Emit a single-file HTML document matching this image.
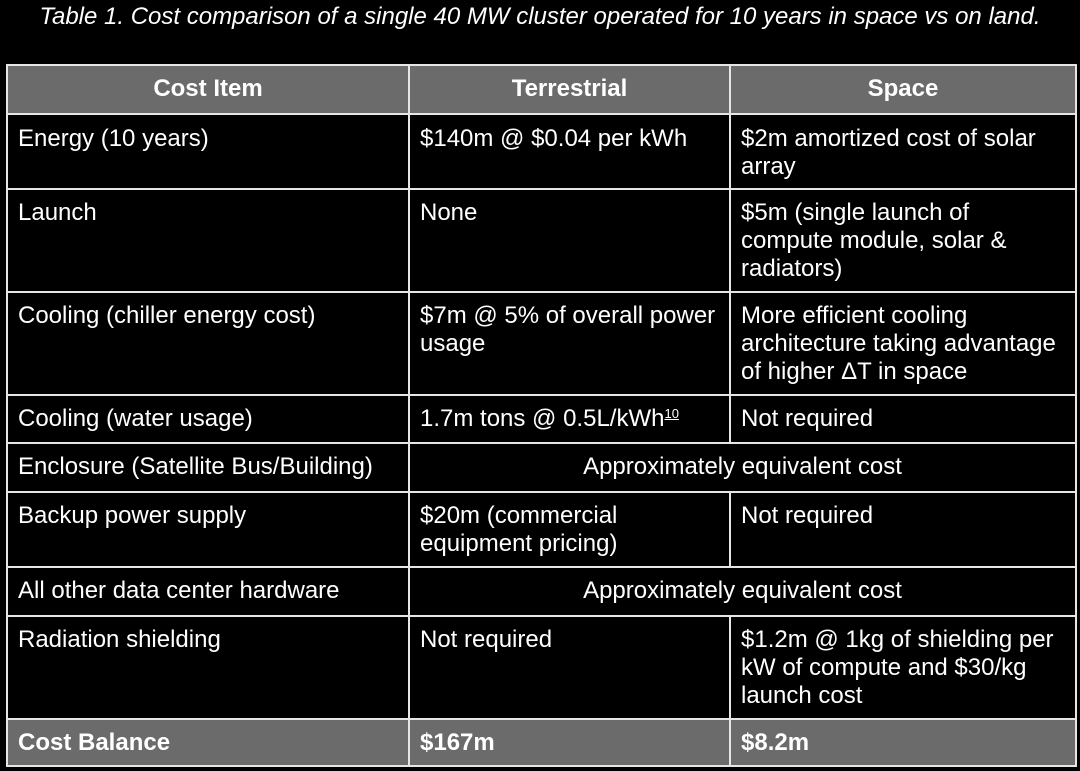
<!DOCTYPE html>
<html><head><meta charset="utf-8"><style>
body{margin:0;width:1080px;height:771px;background:#000;overflow:hidden;font-family:"Liberation Sans",Arial,sans-serif;color:#fff}
.t{position:absolute;left:0;top:3px;width:1080px;text-align:center;font-style:italic;font-size:24px;white-space:nowrap}
.c{position:absolute;box-sizing:border-box;border:2px solid #e6e6e6;font-size:24px;line-height:28px;padding:9px 0 0 10px;white-space:nowrap}
.h{background:#6b6b6b;font-weight:bold;text-align:center;padding:9px 0 0 0}
.g{background:#6b6b6b;font-weight:bold}
.ctr{text-align:center;padding-left:0}
sup{font-size:13px;text-decoration:underline;vertical-align:8px;line-height:0}
</style></head><body>
<div class="t">Table 1. Cost comparison of a single 40 MW cluster operated for 10 years in space vs on land.</div>
<div>
<div class="c h" style="left:6px;top:64px;width:404px;height:51px">Cost Item</div>
<div class="c h" style="left:408px;top:64px;width:323px;height:51px">Terrestrial</div>
<div class="c h" style="left:729px;top:64px;width:348px;height:51px">Space</div>

<div class="c" style="left:6px;top:113px;width:404px;height:77px;padding-top:10px">Energy (10 years)</div>
<div class="c" style="left:408px;top:113px;width:323px;height:77px;padding-top:10px">$140m @ $0.04 per kWh</div>
<div class="c" style="left:729px;top:113px;width:348px;height:77px;padding-top:10px">$2m amortized cost of solar<br>array</div>

<div class="c" style="left:6px;top:188px;width:404px;height:105px">Launch</div>
<div class="c" style="left:408px;top:188px;width:323px;height:105px">None</div>
<div class="c" style="left:729px;top:188px;width:348px;height:105px">$5m (single launch of<br>compute module, solar &amp;<br>radiators)</div>

<div class="c" style="left:6px;top:291px;width:404px;height:105px">Cooling (chiller energy cost)</div>
<div class="c" style="left:408px;top:291px;width:323px;height:105px">$7m @ 5% of overall power<br>usage</div>
<div class="c" style="left:729px;top:291px;width:348px;height:105px">More efficient cooling<br>architecture taking advantage<br>of higher ΔT in space</div>

<div class="c" style="left:6px;top:394px;width:404px;height:50px">Cooling (water usage)</div>
<div class="c" style="left:408px;top:394px;width:323px;height:50px">1.7m tons @ 0.5L/kWh<sup>10</sup></div>
<div class="c" style="left:729px;top:394px;width:348px;height:50px">Not required</div>

<div class="c" style="left:6px;top:442px;width:404px;height:51px">Enclosure (Satellite Bus/Building)</div>
<div class="c ctr" style="left:408px;top:442px;width:669px;height:51px">Approximately equivalent cost</div>

<div class="c" style="left:6px;top:491px;width:404px;height:77px">Backup power supply</div>
<div class="c" style="left:408px;top:491px;width:323px;height:77px">$20m (commercial<br>equipment pricing)</div>
<div class="c" style="left:729px;top:491px;width:348px;height:77px">Not required</div>

<div class="c" style="left:6px;top:566px;width:404px;height:51px">All other data center hardware</div>
<div class="c ctr" style="left:408px;top:566px;width:669px;height:51px">Approximately equivalent cost</div>

<div class="c" style="left:6px;top:615px;width:404px;height:105px">Radiation shielding</div>
<div class="c" style="left:408px;top:615px;width:323px;height:105px">Not required</div>
<div class="c" style="left:729px;top:615px;width:348px;height:105px">$1.2m @ 1kg of shielding per<br>kW of compute and $30/kg<br>launch cost</div>

<div class="c g" style="left:6px;top:718px;width:404px;height:49px">Cost Balance</div>
<div class="c g" style="left:408px;top:718px;width:323px;height:49px">$167m</div>
<div class="c g" style="left:729px;top:718px;width:348px;height:49px">$8.2m</div>
</div>
</body></html>
